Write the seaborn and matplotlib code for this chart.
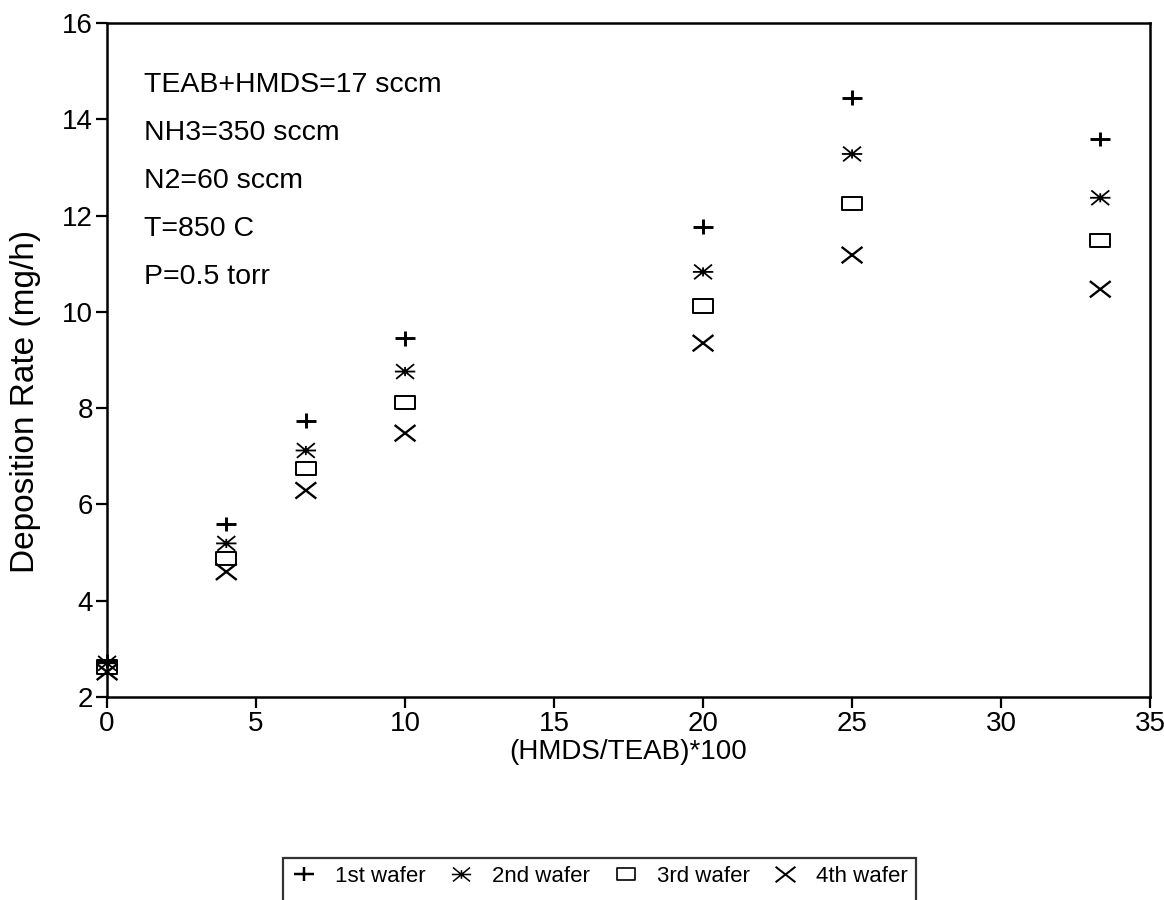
import numpy as np
import pandas as pd
import matplotlib
matplotlib.use("Agg")
import matplotlib.pyplot as plt
from matplotlib.path import Path
from matplotlib.lines import Line2D
import seaborn as sns

# HMDS/TEAB ratio (x100) and deposition rate per wafer position
ratio = [0.0, 4.0, 6.67, 10.0, 20.0, 25.0, 33.33]
wafer_1 = [2.75, 5.59, 7.74, 9.45, 11.77, 14.45, 13.59]
wafer_2 = [2.70, 5.19, 7.12, 8.76, 10.83, 13.28, 12.37]
wafer_3 = [2.62, 4.87, 6.75, 8.12, 10.12, 12.25, 11.48]
wafer_4 = [2.52, 4.60, 6.29, 7.48, 9.35, 11.18, 10.47]
series_names = ["1st wafer", "2nd wafer", "3rd wafer", "4th wafer"]

conditions = ["TEAB+HMDS=17 sccm", "NH3=350 sccm", "N2=60 sccm", "T=850 C", "P=0.5 torr"]

sns.set_style("ticks")
plt.rcParams["font.family"] = ["Liberation Sans", "DejaVu Sans"]
plt.rcParams["text.color"] = "black"
plt.rcParams["axes.labelcolor"] = "black"

df = pd.DataFrame({
    "ratio": ratio * 4,
    "rate": wafer_1 + wafer_2 + wafer_3 + wafer_4,
    "wafer": np.repeat(series_names, len(ratio)),
})

# line-art marker shapes, a little wider than tall
seg2 = [Path.MOVETO, Path.LINETO]
plus_path = Path([(-1, 0), (1, 0), (0, -0.72), (0, 0.72)], seg2 * 2)
star_path = Path(
    [(-1, 0), (1, 0), (-0.88, -0.72), (0.88, 0.72), (-0.88, 0.72), (0.88, -0.72), (0, -0.45), (0, 0.45)],
    seg2 * 4,
)
rect_path = Path(
    [(-1, -0.68), (1, -0.68), (1, 0.68), (-1, 0.68), (-1, -0.68)],
    [Path.MOVETO, Path.LINETO, Path.LINETO, Path.LINETO, Path.CLOSEPOLY],
)
cross_path = Path([(-1, -0.78), (1, 0.78), (-1, 0.78), (1, -0.78)], seg2 * 2)

markers = {"1st wafer": plus_path, "2nd wafer": star_path, "3rd wafer": rect_path, "4th wafer": cross_path}
sizes = {"1st wafer": 215, "2nd wafer": 215, "3rd wafer": 200, "4th wafer": 225}
widths = {"1st wafer": 2.1, "2nd wafer": 1.3, "3rd wafer": 1.4, "4th wafer": 1.7}

fig = plt.figure(figsize=(11.64, 9.0), dpi=100)
ax = fig.add_axes([0.092, 0.2256, 0.896, 0.7488])

for name in series_names:
    sub = df[df["wafer"] == name]
    sns.scatterplot(data=sub, x="ratio", y="rate", marker=markers[name], s=sizes[name],
                    linewidth=widths[name], facecolor="none", edgecolor="black",
                    ax=ax, legend=False, clip_on=False, zorder=3)

ax.set_xlim(0, 35)
ax.set_ylim(2, 16)
ax.set_xticks(range(0, 36, 5))
ax.set_yticks(range(2, 17, 2))
for sp in ax.spines.values():
    sp.set_visible(True)
    sp.set_linewidth(1.8)
    sp.set_color("black")
ax.tick_params(axis="both", direction="out", length=8, width=1.6, labelsize=20,
               colors="black", pad=2)
ax.set_xlabel("(HMDS/TEAB)*100", fontsize=20)
ax.set_ylabel("Deposition Rate (mg/h)", fontsize=24)
ax.xaxis.set_label_coords(0.5, -0.062)
ax.yaxis.set_label_coords(-0.063, 0.438)

for i, line in enumerate(conditions):
    ax.text(1.25, 14.72 - i, line, fontsize=20.5, va="center", ha="left")

handles, labels = [], []
blank = Line2D([], [], linestyle="none", marker=None)
for n in series_names:
    handles.append(Line2D([], [], linestyle="none", marker=markers[n],
                          markersize=np.sqrt(sizes[n]) * 0.95, markeredgewidth=widths[n] * 0.85,
                          color="black", markerfacecolor="none"))
    labels.append(n)
    # empty second row keeps the frame running past the lower edge
    handles.append(blank)
    labels.append("")

leg = fig.legend(handles, labels, loc="upper center", bbox_to_anchor=(0.515, 1 - 858 / 900),
                 ncol=4, frameon=True, fancybox=False, fontsize=16, handlelength=1.2,
                 handletextpad=0.8, columnspacing=1.0, borderpad=0.35, borderaxespad=0,
                 labelspacing=0.6)
leg.get_frame().set_edgecolor("black")
leg.get_frame().set_linewidth(1.6)

fig.savefig("out.png", dpi=100)
